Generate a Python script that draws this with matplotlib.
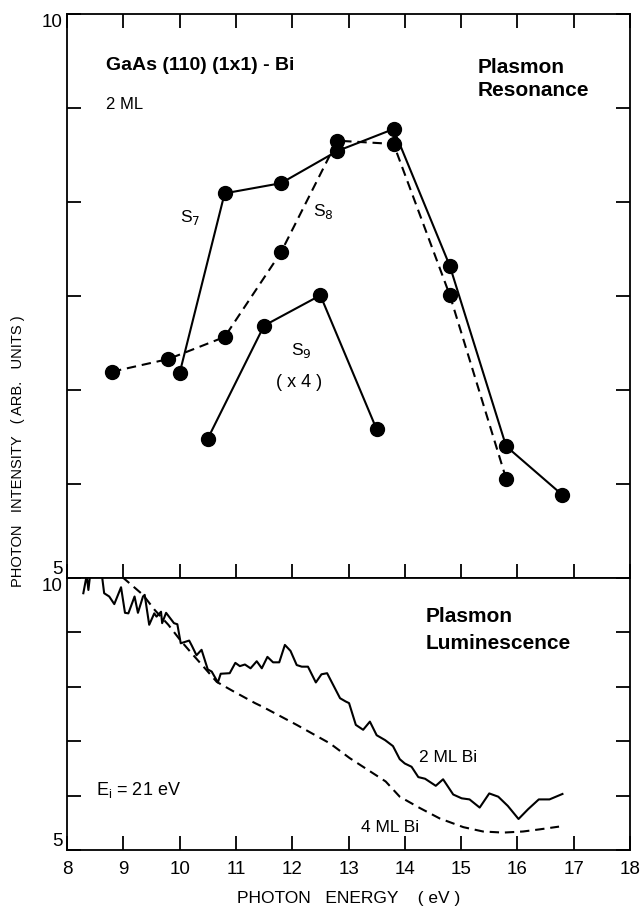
import matplotlib
matplotlib.use("Agg")
import matplotlib.pyplot as plt
import numpy as np

plt.rcParams['font.family'] = ['Liberation Sans', 'DejaVu Sans']

# ---- Top panel: plasmon resonance ----
s7_x = [10.0, 10.8, 11.8, 12.8, 13.8, 14.8, 15.8, 16.8]
s7_y = [6.815, 8.41, 8.50, 8.785, 8.98, 7.766, 6.168, 5.736]
s8_x = [8.8, 9.8, 10.8, 11.8, 12.8, 13.8, 14.8, 15.8]
s8_y = [6.829, 6.941, 7.137, 7.887, 8.877, 8.848, 7.506, 5.88]
s9_x = [10.5, 11.5, 12.5, 13.5]
s9_y = [6.235, 7.237, 7.506, 6.318]

# ---- Bottom panel: plasmon luminescence ----
ml2_x = [8.29, 8.35, 8.38, 8.41, 8.50, 8.62, 8.66, 8.75, 8.84, 8.96, 9.03, 9.09,
         9.20, 9.26, 9.35, 9.38, 9.46, 9.55, 9.59, 9.67, 9.69, 9.76, 9.90, 9.96,
         10.02, 10.17, 10.22, 10.30, 10.39, 10.50, 10.57, 10.68, 10.73, 10.89,
         10.99, 11.07, 11.16, 11.26, 11.37, 11.46, 11.56, 11.66, 11.77, 11.87,
         11.97, 12.08, 12.17, 12.28, 12.42, 12.52, 12.62, 12.73, 12.85, 12.95,
         13.01, 13.13, 13.26, 13.38, 13.50, 13.65, 13.79, 13.91, 14.00, 14.12,
         14.24, 14.36, 14.55, 14.68, 14.86, 15.01, 15.15, 15.33, 15.50, 15.66,
         15.83, 16.02, 16.19, 16.38, 16.57, 16.80]
ml2_y = [9.72, 10.05, 9.78, 10.05, 10.1, 10.05, 9.72, 9.66, 9.52, 9.83, 9.36, 9.35,
         9.66, 9.36, 9.66, 9.69, 9.14, 9.35, 9.29, 9.38, 9.17, 9.36, 9.17, 9.15,
         8.80, 8.85, 8.75, 8.58, 8.68, 8.32, 8.28, 8.08, 8.24, 8.25,
         8.44, 8.38, 8.41, 8.34, 8.47, 8.34, 8.55, 8.45, 8.45, 8.77,
         8.66, 8.40, 8.37, 8.37, 8.08, 8.23, 8.25, 8.03, 7.79, 7.73,
         7.70, 7.30, 7.21, 7.36, 7.11, 7.02, 6.91, 6.67, 6.59, 6.53,
         6.34, 6.31, 6.18, 6.30, 6.02, 5.95, 5.93, 5.78, 6.04, 5.98,
         5.81, 5.57, 5.75, 5.93, 5.93, 6.03]
ml4_x = [8.98, 9.35, 9.56, 9.80, 10.01, 10.21, 10.45, 10.66, 10.95, 11.34, 11.48,
         12.08, 12.67, 13.02, 13.66, 13.91, 14.27, 14.62, 15.04, 15.39, 15.75,
         16.10, 16.40, 16.74]
ml4_y = [10.02, 9.69, 9.41, 9.14, 8.86, 8.62, 8.34, 8.09, 7.92, 7.70, 7.63,
         7.30, 6.96, 6.69, 6.26, 5.98, 5.77, 5.58, 5.42, 5.34, 5.32,
         5.34, 5.38, 5.43]

x_ticks = list(range(8, 19))
x_ticklabels = [str(v) for v in x_ticks]

fig = plt.figure(figsize=(6.42, 9.09), dpi=100)
L, R = 67 / 642, 630 / 642
top_px, mid_px, bot_px = 14, 578, 850
ax1 = fig.add_axes([L, 1 - mid_px / 909, R - L, (mid_px - top_px) / 909])
ax2 = fig.add_axes([L, 1 - bot_px / 909, R - L, (bot_px - mid_px) / 909])

lw = 1.5
ms = 10
dash = (4.5, 2.8)

ax1.plot(s7_x, s7_y, '-', color='black', lw=lw, marker='o', ms=ms)
ax1.plot(s8_x, s8_y, '--', color='black', lw=lw, marker='o', ms=ms, dashes=dash)
ax1.plot(s9_x, s9_y, '-', color='black', lw=lw, marker='o', ms=ms)

ax2.plot(ml2_x, ml2_y, '-', color='black', lw=lw)
ax2.plot(ml4_x, ml4_y, '--', color='black', lw=lw, dashes=dash)

for ax in (ax1, ax2):
    ax.set_xlim(8, 18)
    ax.set_ylim(5, 10)
    for sp in ax.spines.values():
        sp.set_linewidth(1.3)
    ax.set_xticks(x_ticks)

ax1.set_yticks(np.linspace(5, 10, 7))
ax1.set_yticklabels(['5', '', '', '', '', '', '10'])
ax2.set_yticks(np.linspace(5, 10, 6))
ax2.set_yticklabels(['5', '', '', '', '', '10'])

ax1.tick_params(axis='both', direction='in', length=10, width=1.3, labelsize=13.5,
                top=True, bottom=True, left=True, right=True, pad=3)
ax1.tick_params(axis='x', labelbottom=False)
ax2.tick_params(axis='both', direction='in', length=10, width=1.3, labelsize=13.5,
                top=False, bottom=True, left=True, right=True, pad=3)
ax2.tick_params(axis='x', pad=8)
ax2.set_xticklabels(x_ticklabels)

# vertical alignment of y tick labels inside the panel range
ylabs1 = ax1.get_yticklabels()
ylabs1[0].set_va('bottom')
ylabs1[-1].set_va('top')
ylabs2 = ax2.get_yticklabels()
ylabs2[0].set_va('bottom')
ylabs2[-1].set_va('top')

ax2.set_xlabel('PHOTON   ENERGY    ( eV )', fontsize=12.5, labelpad=9)
fig.text(18 / 642, 1 - 451 / 909, 'PHOTON   INTENSITY   ( ARB.   UNITS )',
         rotation=90, ha='center', va='center', fontsize=10.5)

# top panel annotations
ax1.text(8.69, 9.54, 'GaAs (110) (1x1) - Bi', fontsize=14, fontweight='bold',
         ha='left', va='center')
ax1.text(8.69, 9.20, '2 ML', fontsize=12, ha='left', va='center')
ax1.text(15.30, 9.53, 'Plasmon', fontsize=15, fontweight='bold', ha='left', va='center')
ax1.text(15.30, 9.32, 'Resonance', fontsize=15, fontweight='bold', ha='left', va='center')
ax1.text(10.0, 8.20, r'S$_7$', fontsize=12.5, ha='left', va='center')
ax1.text(12.37, 8.25, r'S$_8$', fontsize=12.5, ha='left', va='center')
ax1.text(11.97, 7.02, r'S$_9$', fontsize=12.5, ha='left', va='center')
ax1.text(12.13, 6.73, '( x 4 )', fontsize=13, ha='center', va='center')

# bottom panel annotations
ax2.text(14.37, 9.30, 'Plasmon', fontsize=15, fontweight='bold', ha='left', va='center')
ax2.text(14.37, 8.80, 'Luminescence', fontsize=15, fontweight='bold', ha='left', va='center')
ax2.text(14.26, 6.70, '2 ML Bi', fontsize=12.5, ha='left', va='center')
ax2.text(13.22, 5.41, '4 ML Bi', fontsize=12.5, ha='left', va='center')
ax2.text(8.52, 6.10, r'E$_\mathregular{i}$ = 21 eV', fontsize=13, ha='left', va='center')

fig.savefig('out.png', dpi=100)
